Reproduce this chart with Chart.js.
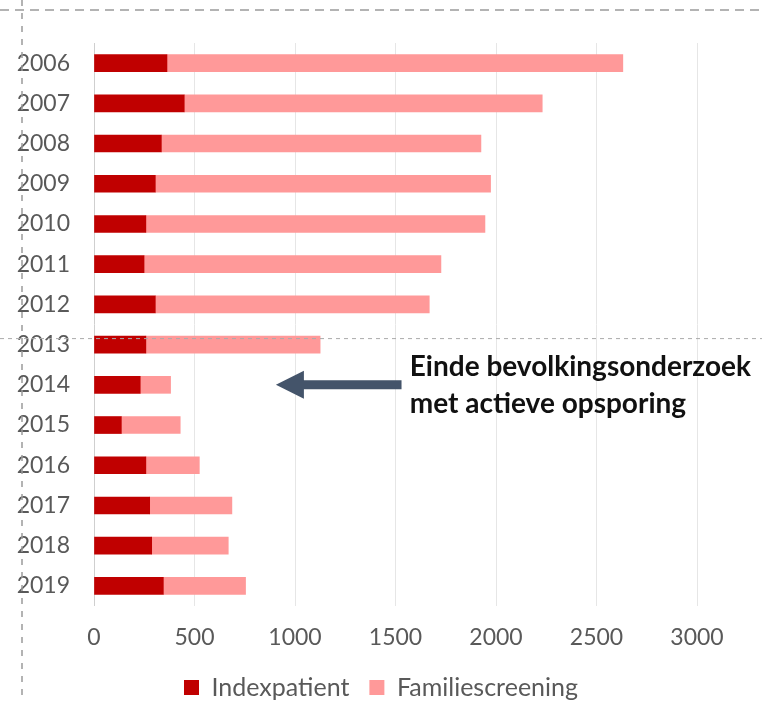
<!DOCTYPE html>
<html>
<head>
<meta charset="utf-8">
<script src="https://cdn.jsdelivr.net/npm/chart.js@4"></script>
<style>
  html, body { margin: 0; padding: 0; background: #fff; }
  #wrap { width: 762px; height: 702px; }
</style>
</head>
<body>
<div id="wrap"><canvas id="mychart" width="762" height="702"></canvas></div>
<script>
const years = ['2006','2007','2008','2009','2010','2011','2012','2013','2014','2015','2016','2017','2018','2019'];
const indexpatient = [363, 449, 335, 305, 258, 249, 305, 258, 230, 136, 258, 277, 287, 345];
const familiescreening = [2268, 1781, 1590, 1668, 1687, 1477, 1363, 867, 151, 293, 266, 409, 381, 409];
const xTicks = [0, 500, 1000, 1500, 2000, 2500, 3000];

const noteLines = ['Einde bevolkingsonderzoek', 'met actieve opsporing'];
const noteYear = '2014';
const arrowFrom = 1530;
const arrowTo = 905;
const noteX = 1571;

const FONT = 'Lato';

const decorations = {
    id: 'decorations',
    afterDraw(chart) {
        const ctx = chart.ctx;
        const x = chart.scales.x;
        const y = chart.scales.y;
        ctx.save();

        // screenshot frame lines
        ctx.strokeStyle = '#9a9a9a';
        ctx.lineWidth = 1.5;
        ctx.setLineDash([9, 6]);
        ctx.beginPath();
        ctx.moveTo(0, 10);
        ctx.lineTo(chart.width, 10);
        ctx.stroke();
        ctx.setLineDash([6, 7]);
        ctx.beginPath();
        ctx.moveTo(22, 0);
        ctx.lineTo(22, chart.height);
        ctx.stroke();

        const yCut = y.getPixelForValue(years.indexOf('2013')) - 6;
        ctx.strokeStyle = '#aaaaaa';
        ctx.lineWidth = 1;
        ctx.setLineDash([4, 4]);
        ctx.beginPath();
        ctx.moveTo(0, yCut);
        ctx.lineTo(chart.width, yCut);
        ctx.stroke();
        ctx.setLineDash([]);

        // arrow
        const ay = y.getPixelForValue(years.indexOf(noteYear));
        const tail = x.getPixelForValue(arrowFrom);
        const tip = x.getPixelForValue(arrowTo);
        const head = tip + 28;
        ctx.fillStyle = '#44546A';
        ctx.beginPath();
        ctx.moveTo(tail, ay - 4.5);
        ctx.lineTo(head, ay - 4.5);
        ctx.lineTo(head, ay - 14);
        ctx.lineTo(tip, ay);
        ctx.lineTo(head, ay + 14);
        ctx.lineTo(head, ay + 4.5);
        ctx.lineTo(tail, ay + 4.5);
        ctx.closePath();
        ctx.fill();

        // note text
        ctx.fillStyle = '#111111';
        ctx.font = 'bold 28px ' + FONT;
        ctx.textAlign = 'left';
        ctx.textBaseline = 'alphabetic';
        const tx = x.getPixelForValue(noteX);
        ctx.fillText(noteLines[0], tx, ay - 9);
        ctx.fillText(noteLines[1], tx, ay + 28);
        ctx.restore();
    }
};

const data = {
    labels: years,
    datasets: [
        {
            label: 'Indexpatient',
            data: indexpatient,
            backgroundColor: '#C00000',
            barThickness: 17,
        },
        {
            label: 'Familiescreening',
            data: familiescreening,
            backgroundColor: '#FF9999',
            barThickness: 17,
        }
    ]
};

const config = {
    type: 'bar',
    data: data,
    options: {
        indexAxis: 'y',
        responsive: false,
        animation: false,
        layout: { padding: { top: 43, left: 0, right: 0, bottom: -8 } },
        plugins: {
            legend: {
                position: 'bottom',
                labels: {
                    boxWidth: 15,
                    boxHeight: 15,
                    padding: 20,
                    color: '#595959',
                    font: { family: FONT, size: 25 },
                },
            },
            tooltip: { enabled: false },
        },
        scales: {
            x: {
                stacked: true,
                min: 0,
                max: 3000,
                afterBuildTicks: (s) => { s.ticks = xTicks.map(v => ({ value: v })); },
                afterFit: (s) => { s.height = 49; },
                grid: { color: (c) => c.tick && c.tick.value === 0 ? '#cfcfcf' : '#e6e6e6', drawTicks: false },
                border: { display: false },
                ticks: {
                    padding: 18,
                    color: '#595959',
                    font: { family: FONT, size: 23 },
                    callback: (v) => String(v),
                },
            },
            y: {
                stacked: true,
                grid: { display: false },
                border: { display: false },
                afterFit: (s) => { s.width = 94; },
                ticks: {
                    padding: 16,
                    color: '#595959',
                    font: { family: FONT, size: 23 },
                },
            },
            y2: {
                type: 'linear',
                position: 'right',
                display: true,
                grid: { display: false },
                border: { display: false },
                ticks: { display: false },
                afterFit: (s) => { s.width = 65; },
            }
        }
    },
    plugins: [decorations],
};

const ctx = document.getElementById('mychart').getContext('2d');
new Chart(ctx, config);
</script>
</body>
</html>
